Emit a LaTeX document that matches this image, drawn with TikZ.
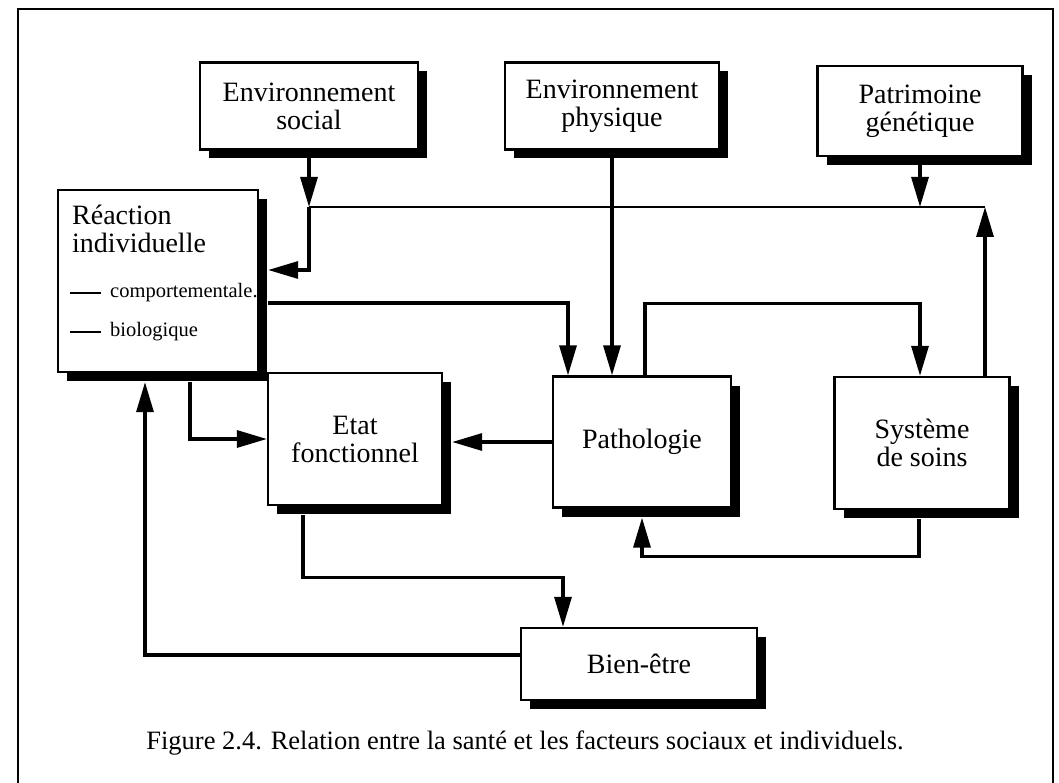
\documentclass[tikz,border=0pt]{standalone}
\usepackage{fontspec}
\setmainfont{Liberation Serif}
\usetikzlibrary{arrows.meta,shadows,calc}

\begin{document}
\begin{tikzpicture}[x=1pt, y=-1pt, line join=miter,
  box/.style = {draw, line width=2.3pt, fill=white, inner sep=0pt, align=center,
    font=\fontsize{28}{28}\selectfont,
    drop shadow={shadow xshift=9pt, shadow yshift=-9pt, fill=black, opacity=1}},
  conn/.style = {line width=3.2pt},
  arr/.style = {conn, -{Triangle[length=30pt, width=17pt]}}]
\useasboundingbox (0,0) rectangle (1059,783);
\clip (0,0) rectangle (1059,783);
\fill[white] (0,0) rectangle (1059,783);
\draw[line width=2.5pt] (18,800) -- (18,9) -- (1053,9) -- (1053,800);

\node[box, minimum width=218pt, minimum height=87pt] (envsoc) at (309,106) {Environnement\\social};
\node[box, minimum width=214pt, minimum height=87pt] (envphy) at (612,106) {Environnement\\physique};
\node[box, minimum width=205pt, minimum height=90pt] (patri) at (920,111) {Patrimoine\\génétique};
\node[box, minimum width=200pt, minimum height=182pt] (reac) at (158,281) {};
\node[box, minimum width=174pt, minimum height=132pt] (etat) at (355,439) {Etat\\fonctionnel};
\node[box, minimum width=178pt, minimum height=131pt] (patho) at (642,442) {Pathologie};
\node[box, minimum width=175pt, minimum height=132pt] (syst) at (922,443) {Système\\de soins};
\node[box, minimum width=236pt, minimum height=72pt] (bien) at (639,664) {Bien-être};

% contenu de la reaction individuelle
\node[anchor=north west, align=left, inner sep=0pt, font=\fontsize{28}{28}\selectfont] (reactit) at (72,205) {Réaction\\individuelle};
\node[anchor=west, inner sep=0pt, font=\fontsize{20.5}{22}\selectfont] (comp) at (110,293) {comportementale.};
\node[anchor=west, inner sep=0pt, font=\fontsize{20.5}{22}\selectfont] (bio) at (110,332) {biologique};
\draw[line width=2.2pt] (comp.west) ++(-9,0) -- ++(-31,0);
\draw[line width=1.3pt] (bio.west) ++(-9,0) -- ++(-31,0);

% connecteurs
\coordinate (jn) at (envsoc.south |- 0,207);
\coordinate (hr) at (985,207);
\draw[arr] (envsoc.south) -- (jn);
\draw[line width=2.4pt] (jn) -- (hr);
\draw[arr] (jn) |- ([xshift=9pt, yshift=11pt]reac.east);
\draw[arr] (patri.south) -- (patri.south |- hr);
\draw[arr] ([xshift=63pt]syst.north) -- (hr);
\draw[arr] (envphy.south) -- (envphy.south |- patho.north);
\draw[arr] ([xshift=9pt, yshift=-22pt]reac.east) -| ([xshift=-74pt]patho.north);
\draw[arr] ([xshift=3pt]patho.north) -- ++(0,-72) -| ([xshift=-2pt]syst.north);
\draw[arr] (patho.west) -- ($(patho.west -| etat.east)+(9,0)$);
\draw[arr] ([xshift=32pt, yshift=-9pt]reac.south) |- (etat.west);
\draw[arr] ([xshift=-3pt, yshift=-9pt]syst.south) -- ++(0,37) -| ([yshift=-9pt]patho.south);
\draw[arr] ([xshift=-52pt, yshift=-9pt]etat.south) -- ++(0,62) -| ([xshift=-76pt]bien.north);
\draw[arr] ([yshift=9pt]bien.west) -| ([xshift=-13pt, yshift=-9pt]reac.south);

\node[font=\fontsize{26.5}{28}\selectfont] (caption) at (525,743) {Figure 2.4. Relation entre la santé et les facteurs sociaux et individuels.};
\end{tikzpicture}
\end{document}
